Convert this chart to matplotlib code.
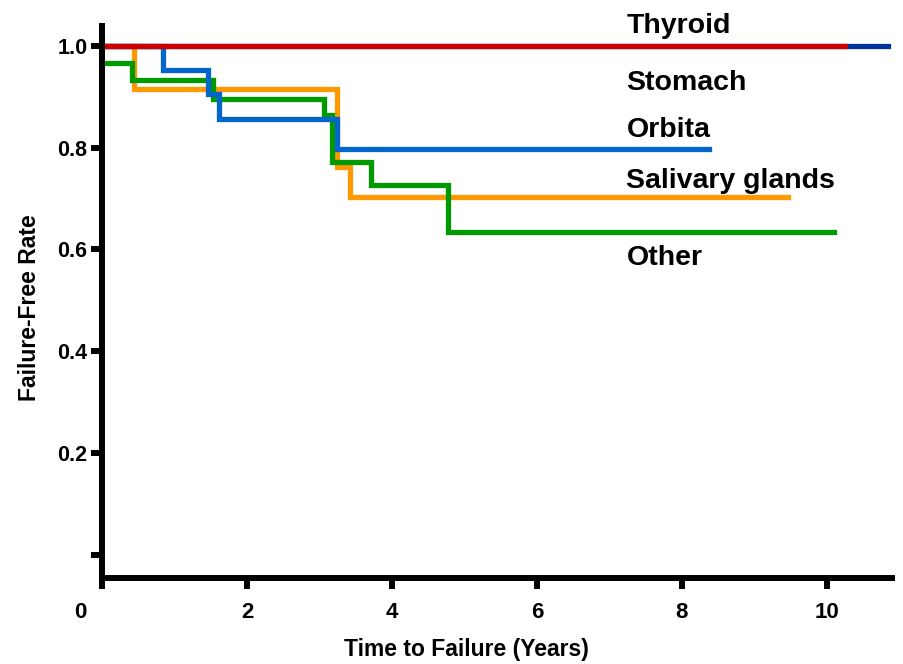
import matplotlib
matplotlib.use('Agg')
import matplotlib.pyplot as plt
import matplotlib.transforms as mtransforms

plt.rcParams['font.family'] = ['Liberation Sans', 'DejaVu Sans']
plt.rcParams['font.weight'] = 'bold'

# Kaplan-Meier step data (time in years, failure-free rate)
thyroid_t = [0.0, 10.25]
thyroid_s = [1.0, 1.0]

stomach_t = [0.0, 10.84]
stomach_s = [1.0, 1.0]

orbita_t = [0.0, 0.84, 1.46, 1.61, 3.24, 8.37]
orbita_s = [1.0, 0.952, 0.905, 0.857, 0.798, 0.798]

salivary_t = [0.0, 0.44, 3.24, 3.42, 9.46]
salivary_s = [1.0, 0.915, 0.762, 0.703, 0.703]

other_t = [0.0, 0.41, 1.53, 3.06, 3.18, 3.71, 4.77, 10.1]
other_s = [0.967, 0.932, 0.895, 0.864, 0.772, 0.727, 0.635, 0.635]

labels = ['Thyroid', 'Stomach', 'Orbita', 'Salivary glands', 'Other']
label_y = [1.0256, 0.9135, 0.821, 0.7207, 0.5694]

xticks = [0, 2, 4, 6, 8, 10]
yticks = [0.0, 0.2, 0.4, 0.6, 0.8, 1.0]
ytick_labels = ['', '0.2', '0.4', '0.6', '0.8', '1.0']

fig = plt.figure(figsize=(9.04, 6.64), dpi=100)
ax = fig.add_axes([0.1128, 0.1295, 0.8772, 0.8359])

lw = 3.8
ax.step(salivary_t, salivary_s, where='post', color='#FF9900', lw=lw, solid_joinstyle='miter')
ax.step(other_t, other_s, where='post', color='#009900', lw=lw, solid_joinstyle='miter')
ax.step(orbita_t, orbita_s, where='post', color='#0066CC', lw=lw, solid_joinstyle='miter')
ax.step(stomach_t, stomach_s, where='post', color='#003399', lw=lw, solid_joinstyle='miter')
ax.step(thyroid_t, thyroid_s, where='post', color='#CC0000', lw=lw, solid_joinstyle='miter')

for name, yy in zip(labels, label_y):
    ax.text(7.235, yy, name, fontsize=20.5, fontweight='bold', va='baseline',
            ha='left', clip_on=False)

ax.set_xlim(0, 10.94)
ax.set_ylim(-0.046, 1.045)

for side in ['top', 'right']:
    ax.spines[side].set_visible(False)
for side in ['left', 'bottom']:
    ax.spines[side].set_linewidth(4.3)
    ax.spines[side].set_capstyle('butt')

ax.set_xticks(xticks)
ax.set_xticklabels([str(t) for t in xticks])
ax.set_yticks(yticks)
ax.set_yticklabels(ytick_labels)
ax.tick_params(axis='both', direction='out', length=8, width=4.3)
ax.tick_params(axis='x', pad=9, labelsize=16)
ax.tick_params(axis='y', pad=2.5, labelsize=15.5)

# the origin label sits left of the corner
zero_lbl = ax.get_xticklabels()[0]
zero_lbl.set_transform(zero_lbl.get_transform() +
                       mtransforms.ScaledTranslation(-0.22, 0, fig.dpi_scale_trans))

ax.set_xlabel('Time to Failure (Years)', fontsize=16.5, fontweight='bold', va='center')
ax.set_ylabel('Failure-Free Rate', fontsize=16.5, fontweight='bold', va='center')
ax.xaxis.set_label_coords(0.459, -0.128)
ax.yaxis.set_label_coords(-0.0908, 0.488)

plt.savefig('out.png', dpi=100)
